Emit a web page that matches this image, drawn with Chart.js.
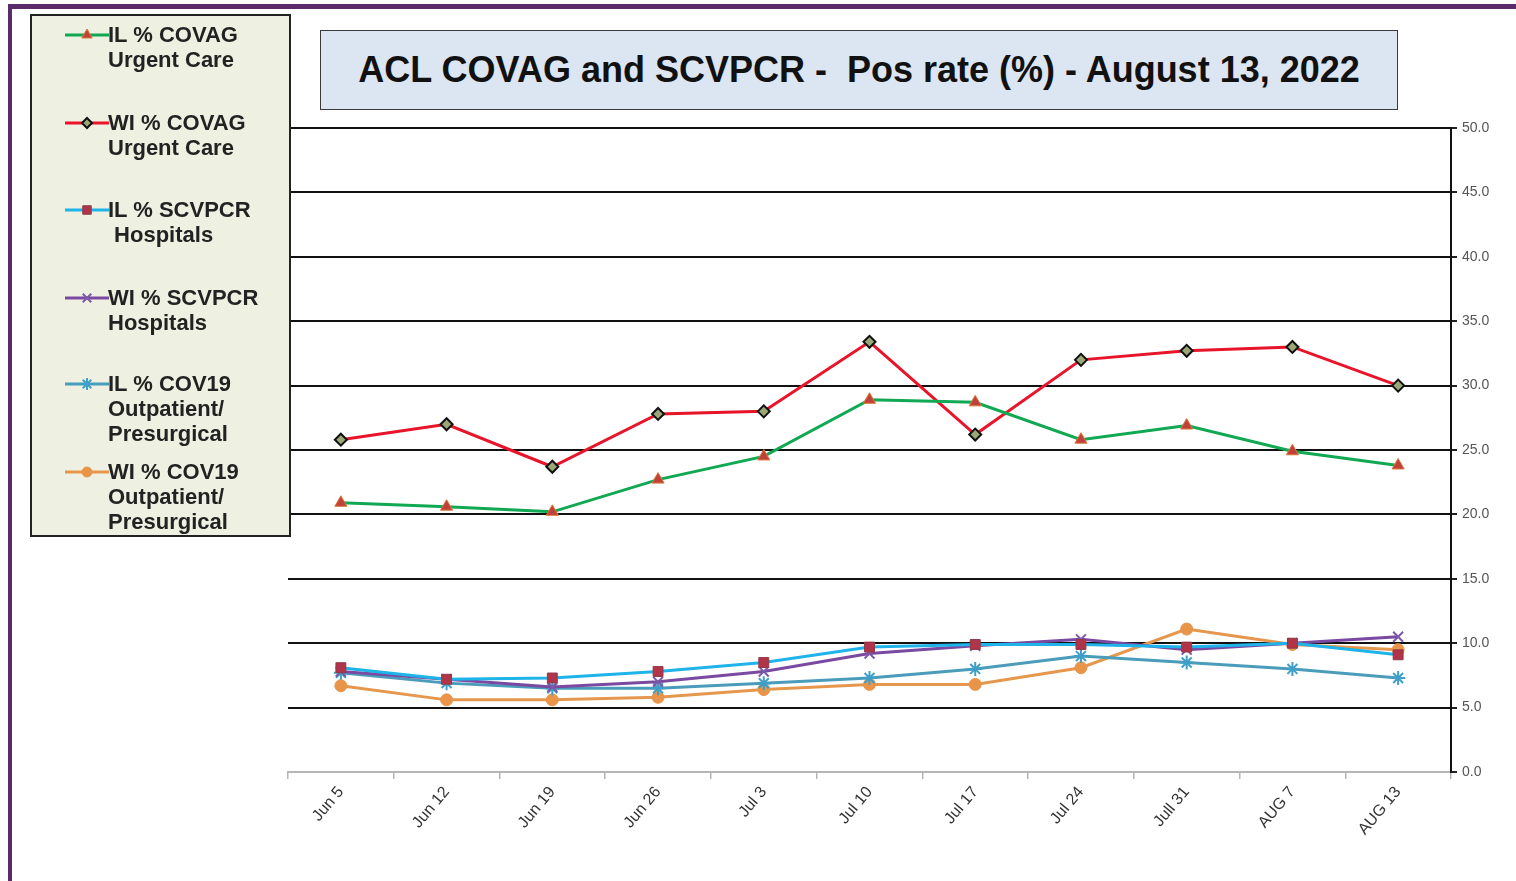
<!DOCTYPE html>
<html>
<head>
<meta charset="utf-8">
<script src="https://cdn.jsdelivr.net/npm/chart.js@4.4.1/dist/chart.umd.min.js"></script>
<style>
	body { margin: 0; background: #fff; font-family: "Liberation Sans", Arial, sans-serif; }
	#wrap { position: relative; width: 1516px; height: 881px; overflow: hidden; }
	#chart { position: absolute; left: 0; top: 0; }
	.bar { position: absolute; background: #5b2a6b; }
	#titleBox {
		position: absolute; left: 320px; top: 30px; width: 1076px; height: 78px;
		background: #dce6f2; border: 1px solid #3a3a3a;
		display: flex; align-items: center; justify-content: center;
		font-weight: bold; font-size: 36px; color: #111; white-space: pre;
	}
	#legend {
		position: absolute; left: 30px; top: 14px; width: 257px; height: 519px;
		background: #eef0e1; border: 2px solid #222;
	}
	.item { position: absolute; left: 0; }
	.item canvas { position: absolute; left: 32px; top: 3px; }
	.item .txt {
		position: absolute; left: 76px; white-space: pre;
		font-weight: bold; font-size: 22px; line-height: 25px; color: #222;
	}
</style>
</head>
<body>
<div id="wrap">
	<canvas id="chart" width="1516" height="881"></canvas>
	<div class="bar" style="left:8px;top:4px;width:1508px;height:5px;"></div>
	<div class="bar" style="left:8px;top:4px;width:4px;height:877px;"></div>
	<div id="titleBox">ACL COVAG and SCVPCR -  Pos rate (%) - August 13, 2022</div>
	<div id="legend"></div>
</div>
<script>
// 주차 레이블
const weeks = ['Jun 5', 'Jun 12', 'Jun 19', 'Jun 26', 'Jul 3', 'Jul 10', 'Jul 17', 'Jul 24', 'Jull 31', 'AUG 7', 'AUG 13'];

// 양성률 (%)
const ilCovag = [20.9, 20.6, 20.2, 22.7, 24.5, 28.9, 28.7, 25.8, 26.9, 24.9, 23.8];
const wiCovag = [25.8, 27.0, 23.7, 27.8, 28.0, 33.4, 26.2, 32.0, 32.7, 33.0, 30.0];
const ilScvpcr = [8.1, 7.2, 7.3, 7.8, 8.5, 9.7, 9.9, 9.9, 9.7, 10.0, 9.1];
const wiScvpcr = [7.8, 7.2, 6.6, 7.0, 7.8, 9.2, 9.8, 10.3, 9.5, 10.0, 10.5];
const ilCov19 = [7.7, 6.9, 6.5, 6.5, 6.9, 7.3, 8.0, 9.0, 8.5, 8.0, 7.3];
const wiCov19 = [6.7, 5.6, 5.6, 5.8, 6.4, 6.8, 6.8, 8.1, 11.1, 9.9, 9.5];

// 범례 텍스트
const seriesNames = [
	['IL % COVAG', 'Urgent Care'],
	['WI % COVAG', 'Urgent Care'],
	['IL % SCVPCR', ' Hospitals'],
	['WI % SCVPCR', 'Hospitals'],
	['IL % COV19', 'Outpatient/', 'Presurgical'],
	['WI % COV19', 'Outpatient/', 'Presurgical']
];

// y축 눈금
const yMin = 0;
const yMax = 50;
const yStep = 5;

function makeSet(label, data, color, style, fill, border, radius, bw) {
	return {
		label: label,
		data: data,
		borderColor: color,
		backgroundColor: color,
		borderWidth: 3,
		tension: 0,
		pointStyle: style,
		pointRadius: radius,
		pointHoverRadius: radius,
		pointBackgroundColor: fill,
		pointBorderColor: border,
		pointBorderWidth: bw
	};
}

const datasets = [
	makeSet(seriesNames[0].join(' '), ilCovag, '#10a852', 'triangle', '#c2403a', '#d9773a', 7, 1),
	makeSet(seriesNames[1].join(' '), wiCovag, '#e8142a', 'rectRot', '#9aa878', '#111', 6, 2),
	makeSet(seriesNames[2].join(' '), ilScvpcr, '#1eb4ea', 'rect', '#b23448', '#8e3a4a', 7, 1),
	makeSet(seriesNames[3].join(' '), wiScvpcr, '#7a4aa2', 'crossRot', '#7a5aa8', '#7a5aa8', 7, 2),
	makeSet(seriesNames[4].join(' '), ilCov19, '#4a9cba', 'star', '#3f9fc8', '#3f9fc8', 7, 2),
	makeSet(seriesNames[5].join(' '), wiCov19, '#e5974e', 'circle', '#e8954a', '#e8954a', 6, 1)
];

// 범례 그리기
const legendTops = [6, 94, 181, 269, 355, 443];
const legendEl = document.getElementById('legend');
datasets.forEach((ds, i) => {
	const item = document.createElement('div');
	item.className = 'item';
	item.style.top = legendTops[i] + 'px';

	const c = document.createElement('canvas');
	c.width = 46;
	c.height = 20;
	const ctx = c.getContext('2d');
	ctx.strokeStyle = ds.borderColor;
	ctx.lineWidth = 3;
	ctx.beginPath();
	ctx.moveTo(1, 10);
	ctx.lineTo(45, 10);
	ctx.stroke();
	ctx.fillStyle = ds.pointBackgroundColor;
	ctx.strokeStyle = ds.pointBorderColor;
	ctx.lineWidth = ds.pointBorderWidth;
	if (Chart.helpers && Chart.helpers.drawPoint) {
		Chart.helpers.drawPoint(ctx, { pointStyle: ds.pointStyle, radius: ds.pointRadius - 1, rotation: 0, borderWidth: ds.pointBorderWidth }, 23, 10);
	}
	item.appendChild(c);

	const txt = document.createElement('div');
	txt.className = 'txt';
	txt.textContent = seriesNames[i].join('\n');
	item.appendChild(txt);
	legendEl.appendChild(item);
});

// 차트 생성
new Chart(document.getElementById('chart').getContext('2d'), {
	type: 'line',
	data: {
		labels: weeks,
		datasets: datasets
	},
	options: {
		responsive: false,
		animation: false,
		events: [],
		layout: {
			padding: { left: 288, top: 128, right: 7, bottom: 9 }
		},
		plugins: {
			legend: { display: false },
			title: { display: false },
			tooltip: { enabled: false }
		},
		scales: {
			x: {
				offset: true,
				grid: {
					offset: true,
					drawOnChartArea: false,
					color: '#b5b5b5',
					tickLength: 7,
					lineWidth: 1.5
				},
				border: { display: true, color: '#b5b5b5', width: 2 },
				ticks: {
					minRotation: 50,
					maxRotation: 50,
					padding: 4,
					color: '#333',
					font: { family: 'Liberation Sans', size: 16 }
				},
				afterFit: scale => { scale.height = 100; }
			},
			y: {
				position: 'right',
				min: yMin,
				max: yMax,
				grid: {
					color: ctx => ctx.tick && ctx.tick.value === 0 ? 'rgba(0,0,0,0)' : '#111',
					tickColor: '#222',
					lineWidth: 2,
					tickLength: 6
				},
				border: { display: true, color: '#111', width: 2 },
				ticks: {
					stepSize: yStep,
					padding: 5,
					color: '#555',
					font: { family: 'Liberation Sans', size: 14 },
					callback: v => Number(v).toFixed(1)
				},
				afterFit: scale => { scale.width = 58; }
			}
		}
	}
});
</script>
</body>
</html>
